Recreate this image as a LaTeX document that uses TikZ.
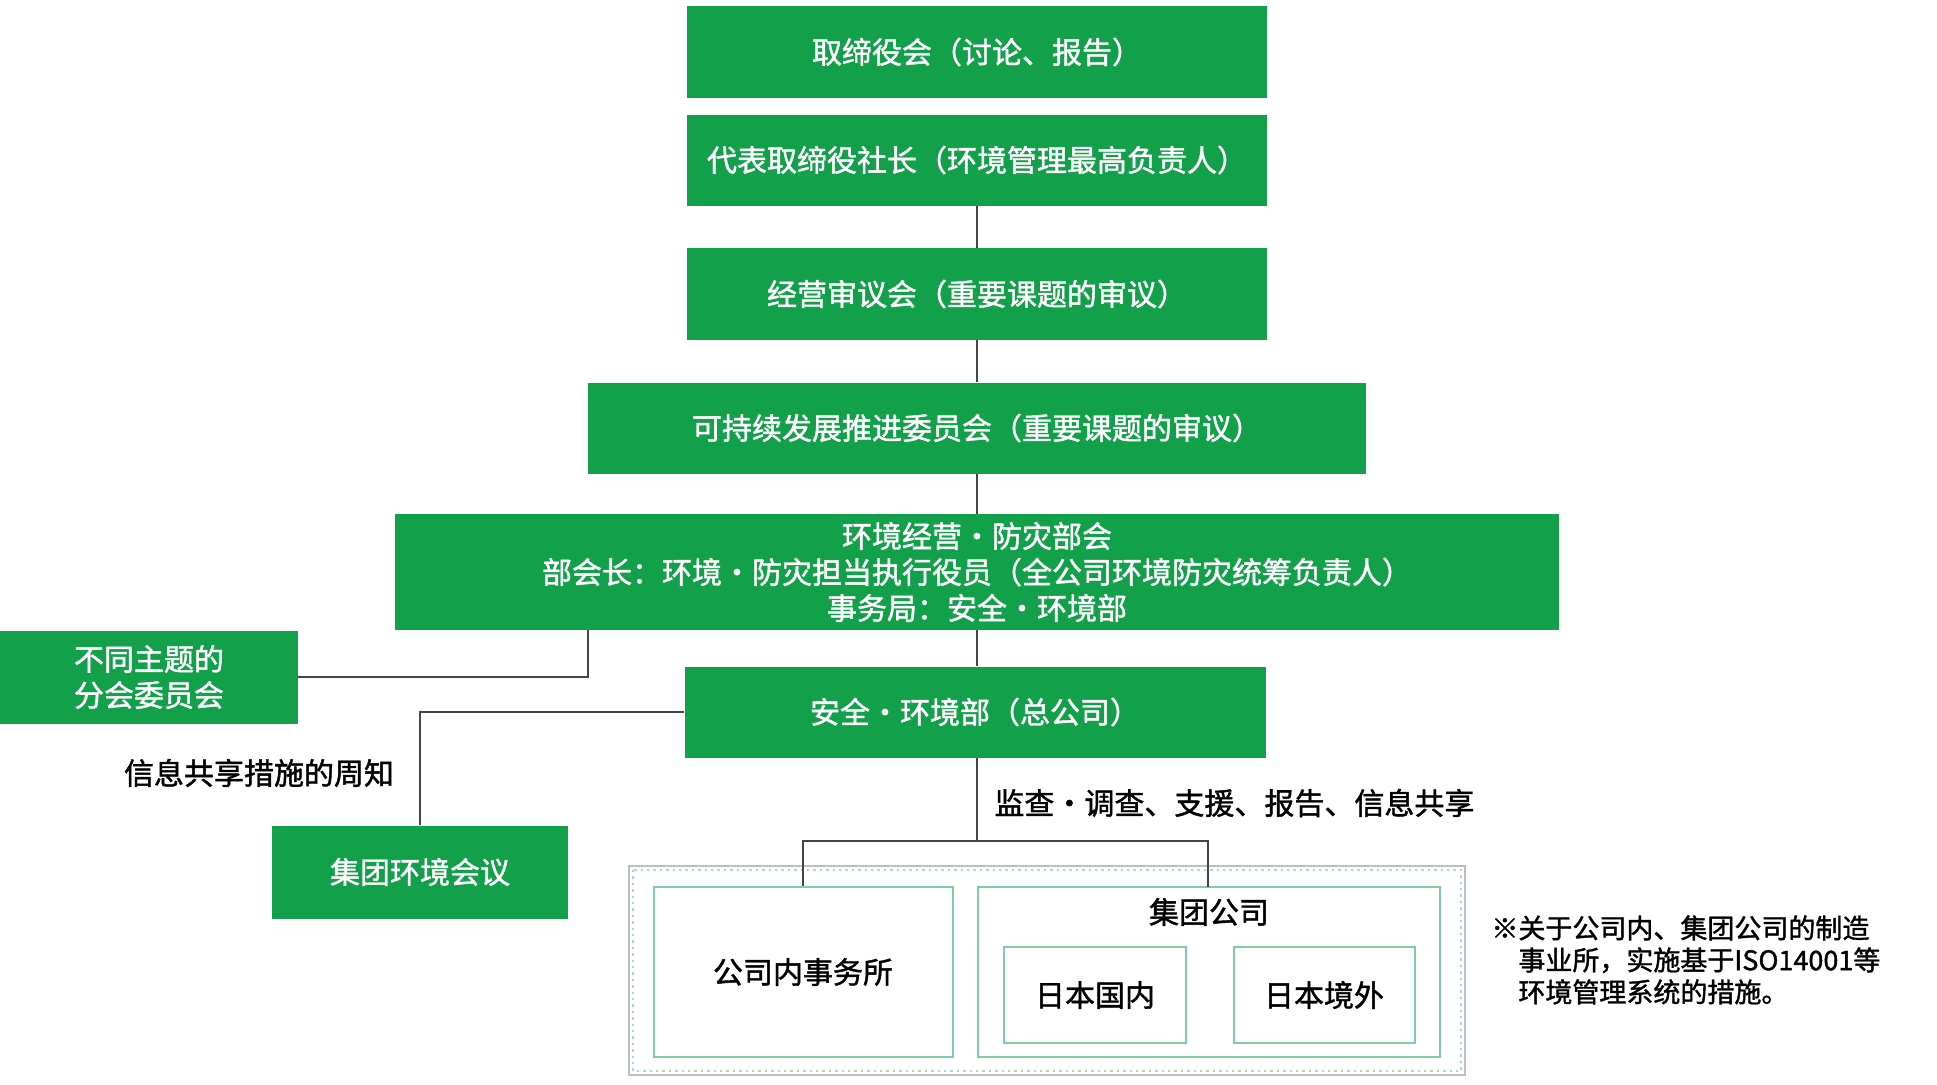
\documentclass[tikz,border=0pt]{standalone}
\usepackage{fontspec}
\setmainfont{Noto Sans CJK SC}[FakeBold=1.4]
\usepackage{xcolor}
\usepackage{tikz}
\usetikzlibrary{positioning, calc}

\definecolor{orggreen}{RGB}{18,160,74}
\definecolor{paleframe}{RGB}{125,206,160}
\definecolor{dotgreen}{RGB}{165,222,188}
\definecolor{linegray}{RGB}{70,70,70}

\begin{document}
\begin{tikzpicture}[
    x=0.5pt, y=-0.5pt,
    org/.style={rectangle, fill=orggreen, text=white, inner sep=0pt, align=center, font=\fontsize{15}{18}\selectfont},
    site/.style={rectangle, draw=paleframe, line width=1pt, inner sep=0pt, align=center, font=\fontsize{15}{18}\selectfont},
    note/.style={inner sep=0pt, align=left, font=\fontsize{15}{18}\selectfont},
    link/.style={draw=linegray, line width=0.7pt},
]
    \useasboundingbox (0,0) rectangle (1937,1084);

    % Main column of committees
    \node[org, minimum width=290pt, minimum height=46pt] (board) at (977,52) {取缔役会（讨论、报告）};
    \node[org, minimum width=290pt, minimum height=45.5pt] (pres) at (977,160) {代表取缔役社长（环境管理最高负责人）};
    \node[org, minimum width=290pt, minimum height=46pt] (mgmt) at (977,294) {经营审议会（重要课题的审议）};
    \node[org, minimum width=389pt, minimum height=45.5pt] (sust) at (977,428) {可持续发展推进委员会（重要课题的审议）};
    \node[org, minimum width=582pt, minimum height=58pt] (env) at (977,572)
        {环境经营・防灾部会\\部会长：环境・防灾担当执行役员（全公司环境防灾统筹负责人）\\事务局：安全・环境部};
    \node[org, minimum width=290.5pt, minimum height=45.5pt] (safety) at (975,712) {安全・环境部（总公司）};

    % Side boxes
    \node[org, minimum width=149pt, minimum height=46.5pt] (sub) at (149,677) {不同主题的\\分会委员会};
    \node[org, minimum width=148pt, minimum height=46.5pt] (gmeet) at (420,872) {集团环境会议};

    % Sites frame
    \draw[draw=gray!50, line width=1pt] (629,866) rectangle (1465,1075);
    \draw[draw=dotgreen, line width=1.2pt, dotted] (633,870) rectangle (1461,1071);
    \node[site, minimum width=149.5pt, minimum height=85pt] (office) at (803,972) {公司内事务所};
    \node[site, minimum width=231pt, minimum height=85pt] (groupco) at (1209,972) {};
    \node[note] (grouplbl) at (1209,912) {集团公司};
    \node[site, minimum width=91pt, minimum height=48pt] (domestic) at (1095,995) {日本国内};
    \node[site, minimum width=90.5pt, minimum height=48pt] (overseas) at (1324,995) {日本境外};

    % Labels
    \node[note] (sharelbl) at (259,773) {信息共享措施的周知};
    \node[note, anchor=west] (auditlbl) at (994,803) {监查・调查、支援、报告、信息共享};
    \node[note, anchor=north west, font=\fontsize{13.5}{16}\selectfont] (remark) at (1491,915)
        {※关于公司内、集团公司的制造\\\phantom{※}事业所，实施基于ISO14001等\\\phantom{※}环境管理系统的措施。};

    % Connectors
    \coordinate (split) at (977,841);
    \draw[link] (pres) -- (mgmt);
    \draw[link] (mgmt) -- (sust);
    \draw[link] (sust) -- (env);
    \draw[link] (env.south) -- (env.south |- safety.north);
    \draw[link] (env.south |- safety.south) -- (split);
    \draw[link] (split) -- (split -| office.north) -- (office.north);
    \draw[link] (split) -- (split -| 1208,0) -- (1208,887);
    \draw[link] (588,630) |- (sub.east);
    \draw[link] (safety.west) -| (gmeet.north);
\end{tikzpicture}
\end{document}
